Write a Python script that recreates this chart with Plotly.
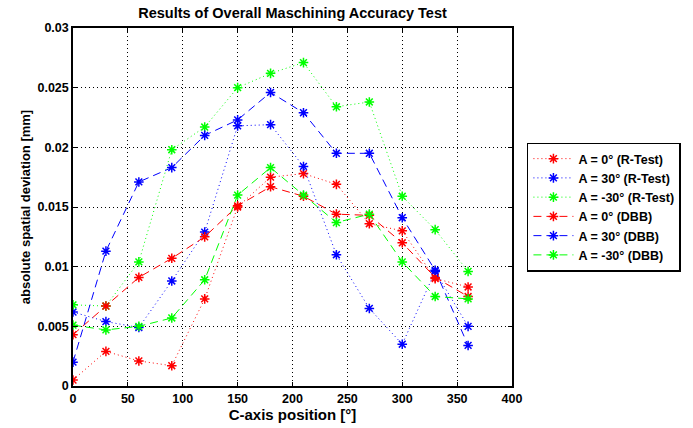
import plotly.graph_objects as go

c_pos = [0, 30, 60, 90, 120, 150, 180, 210, 240, 270, 300, 330, 360]

a0_rtest = [0.0005, 0.0029, 0.0021, 0.0017, 0.0073, 0.0150, 0.0175, 0.0178, 0.0169, 0.0136, 0.0130, 0.0090, 0.0083]
a30_rtest = [0.0062, 0.0054, 0.0049, 0.0088, 0.0129, 0.0218, 0.0219, 0.0184, 0.0110, 0.0065, 0.0035, 0.0096, 0.0050]
am30_rtest = [0.0068, 0.0067, 0.0104, 0.0198, 0.0217, 0.0250, 0.0262, 0.0271, 0.0234, 0.0238, 0.0159, 0.0131, 0.0096]
a0_dbb = [0.0043, 0.0067, 0.0091, 0.0107, 0.0125, 0.0151, 0.0167, 0.0159, 0.0144, 0.0143, 0.0120, 0.0091, 0.0075]
a30_dbb = [0.0020, 0.0113, 0.0171, 0.0183, 0.0210, 0.0223, 0.0246, 0.0229, 0.0195, 0.0195, 0.0141, 0.0097, 0.0034]
am30_dbb = [0.0051, 0.0047, 0.0050, 0.0057, 0.0089, 0.0160, 0.0183, 0.0160, 0.0137, 0.0144, 0.0104, 0.0075, 0.0073]

series = [
    ("A = 0° (R-Test)", a0_rtest, "#ff0000", "1px,3px"),
    ("A = 30° (R-Test)", a30_rtest, "#0000ff", "1px,3px"),
    ("A = -30° (R-Test)", am30_rtest, "#00ff00", "1px,3px"),
    ("A = 0° (DBB)", a0_dbb, "#ff0000", "8px,5px"),
    ("A = 30° (DBB)", a30_dbb, "#0000ff", "8px,5px"),
    ("A = -30° (DBB)", am30_dbb, "#00ff00", "8px,5px"),
]

x_ticks = [0, 50, 100, 150, 200, 250, 300, 350, 400]
y_ticks = [0, 0.005, 0.01, 0.015, 0.02, 0.025, 0.03]
y_tick_labels = ["0", "0.005", "0.01", "0.015", "0.02", "0.025", "0.03"]

fam = "Liberation Sans, Arial, sans-serif"

fig = go.Figure()
for name, vals, col, dash in series:
    fig.add_trace(go.Scatter(
        x=c_pos, y=vals, name=name, mode="lines+markers",
        line=dict(color=col, width=1, dash=dash),
        marker=dict(symbol="asterisk", size=8, color=col,
                    line=dict(color=col, width=1.5)),
    ))

font = dict(family=fam, size=12.5, color="black", weight="bold")

axis_common = dict(
    showgrid=True, gridcolor="black", griddash="1px,3px", gridwidth=1,
    showline=True, linecolor="black", linewidth=1.5, mirror="ticks",
    ticks="inside", ticklen=4, tickcolor="black", zeroline=False,
    tickfont=font,
)

fig.update_layout(
    width=693, height=428,
    margin=dict(l=73, r=181, t=28, b=31),
    paper_bgcolor="white", plot_bgcolor="white",
    font=font,
    title=dict(text="Results of Overall Maschining Accuracy Test", x=(73 + 512) / 2 / 693,
               xanchor="center", y=1 - 13 / 428, yanchor="middle",
               font=dict(family=fam, size=14.5, color="black", weight="bold")),
    xaxis=dict(range=[0, 400], tickvals=x_ticks,
               title=dict(text="C-axis position [°]", standoff=0,
                          font=dict(family=fam, size=15, color="black", weight="bold")),
               **axis_common),
    yaxis=dict(range=[0, 0.03], tickvals=y_ticks, ticktext=y_tick_labels,
               title=dict(text="absolute spatial deviation [mm]", standoff=4,
                          font=dict(family=fam, size=13, color="black", weight="bold")),
               **axis_common),
    legend=dict(x=1.034, y=0.5, xanchor="left", yanchor="middle",
                bordercolor="black", borderwidth=1.5, bgcolor="white",
                font=dict(family=fam, size=12.5, color="black", weight="bold"),
                tracegroupgap=0, itemwidth=40),
    showlegend=True,
)

fig.write_html("out.html")
